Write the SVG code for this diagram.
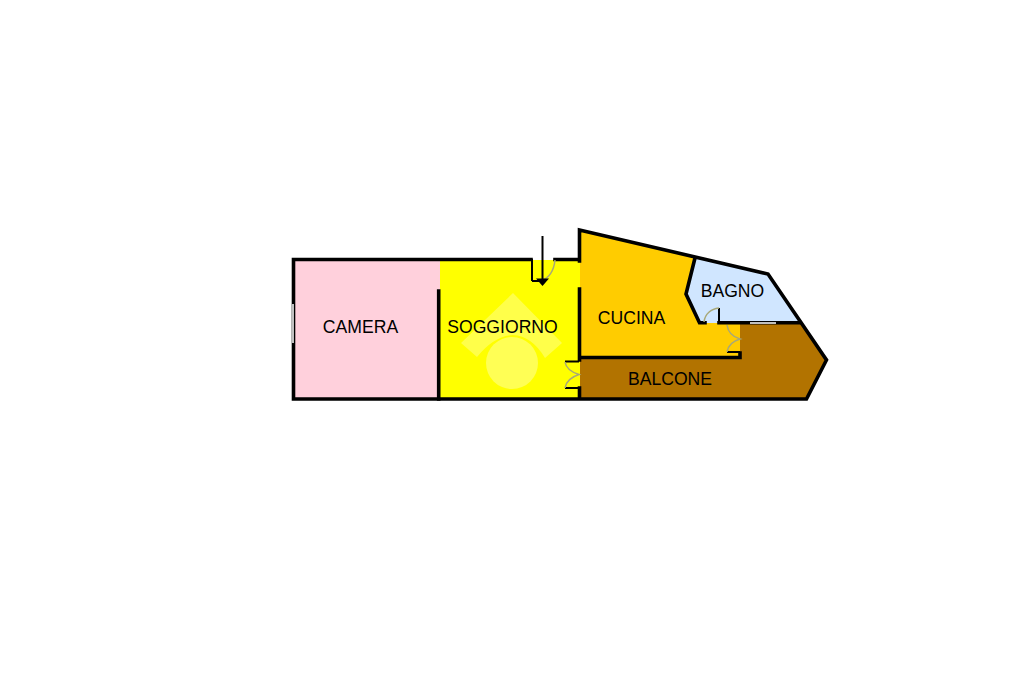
<svg xmlns="http://www.w3.org/2000/svg" width="1024" height="682" viewBox="0 0 1024 682">
<style>
text{font-family:"Liberation Sans",Arial,sans-serif;font-size:17.6px;fill:#000;text-anchor:middle}
.wall{fill:none;stroke:#000;stroke-width:3.6;stroke-linecap:square;stroke-linejoin:miter}
.stub{fill:none;stroke:#000;stroke-width:2}
.door{fill:none;stroke:#a8a878;stroke-width:1.5}
</style>
<rect width="1024" height="682" fill="#fff"/>
<g id="camera"><rect x="293" y="260" width="147" height="139" fill="#ffd0dc"/><text x="360.500" y="333">CAMERA</text></g>
<g id="soggiorno"><rect x="440" y="260" width="140" height="139" fill="#ffff00"/>
<path d="M513 293L562 343L545 358Q532 336 513 335Q494 336 477 357L461 343Z" fill="#ffff4a"/><circle cx="512" cy="363" r="26" fill="#ffff55"/>
<text x="502.500" y="333">SOGGIORNO</text></g>
<g id="cucina"><path d="M580 230L695 258L686 294L699.500 323L740 323L740 358L580 358Z" fill="#ffcc00"/><text x="631.500" y="323.500">CUCINA</text></g>
<g id="bagno"><path d="M695 258L768 274L800 323L699.500 323L686 294Z" fill="#d0e6ff"/><text x="732.500" y="297">BAGNO</text></g>
<g id="balcone"><path d="M580 358L740 358L740 323L800 323L826.500 360L806.500 399L580 399Z" fill="#b27300"/><text x="670" y="385">BALCONE</text></g>
<g id="connectors">
<path class="wall" d="M293.500 259.500H531M555 259.500H579.500M293.500 259.500V399H806.500L826.500 360L768 274L579.500 230V261M579.500 289V360M579.500 388V399"/>
<path class="wall" d="M438.700 291V399M695 258L686 294L699.500 322.700H705M719 322.700H799M580 357.500H740V353"/>
<path class="stub" d="M532 259V281M532 281H541M719 308V323M727 352H740M565 361.500H579M565 388H579"/>
<path d="M293 304V343M750 323H776" stroke="#fff" stroke-width="1.500" fill="none"/>
<path class="door" d="M555 260C554 270 549 278 541 281M704 322C705 314 711 309 719 308M727 325C728 332 733 337 740 339C733 341 728 346 727 352M565 362C566 368 571 372 579 374.500C571 377 566 382 565 388"/>
<path d="M542.500 236V280" stroke="#000" stroke-width="2" fill="none"/>
<path d="M536 278.500H549L542.500 286Z" fill="#000"/>
</g>
</svg>
